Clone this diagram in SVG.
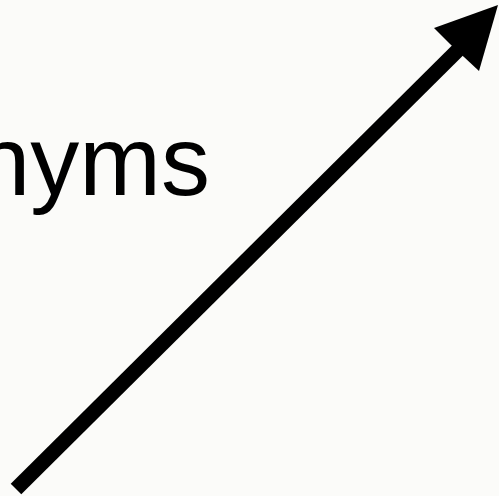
<svg xmlns="http://www.w3.org/2000/svg" width="499" height="496" viewBox="0 0 499 496">
<style>
.lbl{font-family:"Liberation Sans",Arial,sans-serif;font-size:98px;fill:#000}
.conn{stroke:#000;stroke-width:15;fill:none}
</style>
<rect width="499" height="496" fill="#fbfbf9"/>
<g id="label"><text class="lbl" x="210" y="195" text-anchor="end">nyms</text></g>
<g id="connectors">
<line class="conn" x1="16" y1="489" x2="458" y2="50"/>
<polygon points="498,5 479,71 450,44 434,28" fill="#000"/>
</g>
</svg>
